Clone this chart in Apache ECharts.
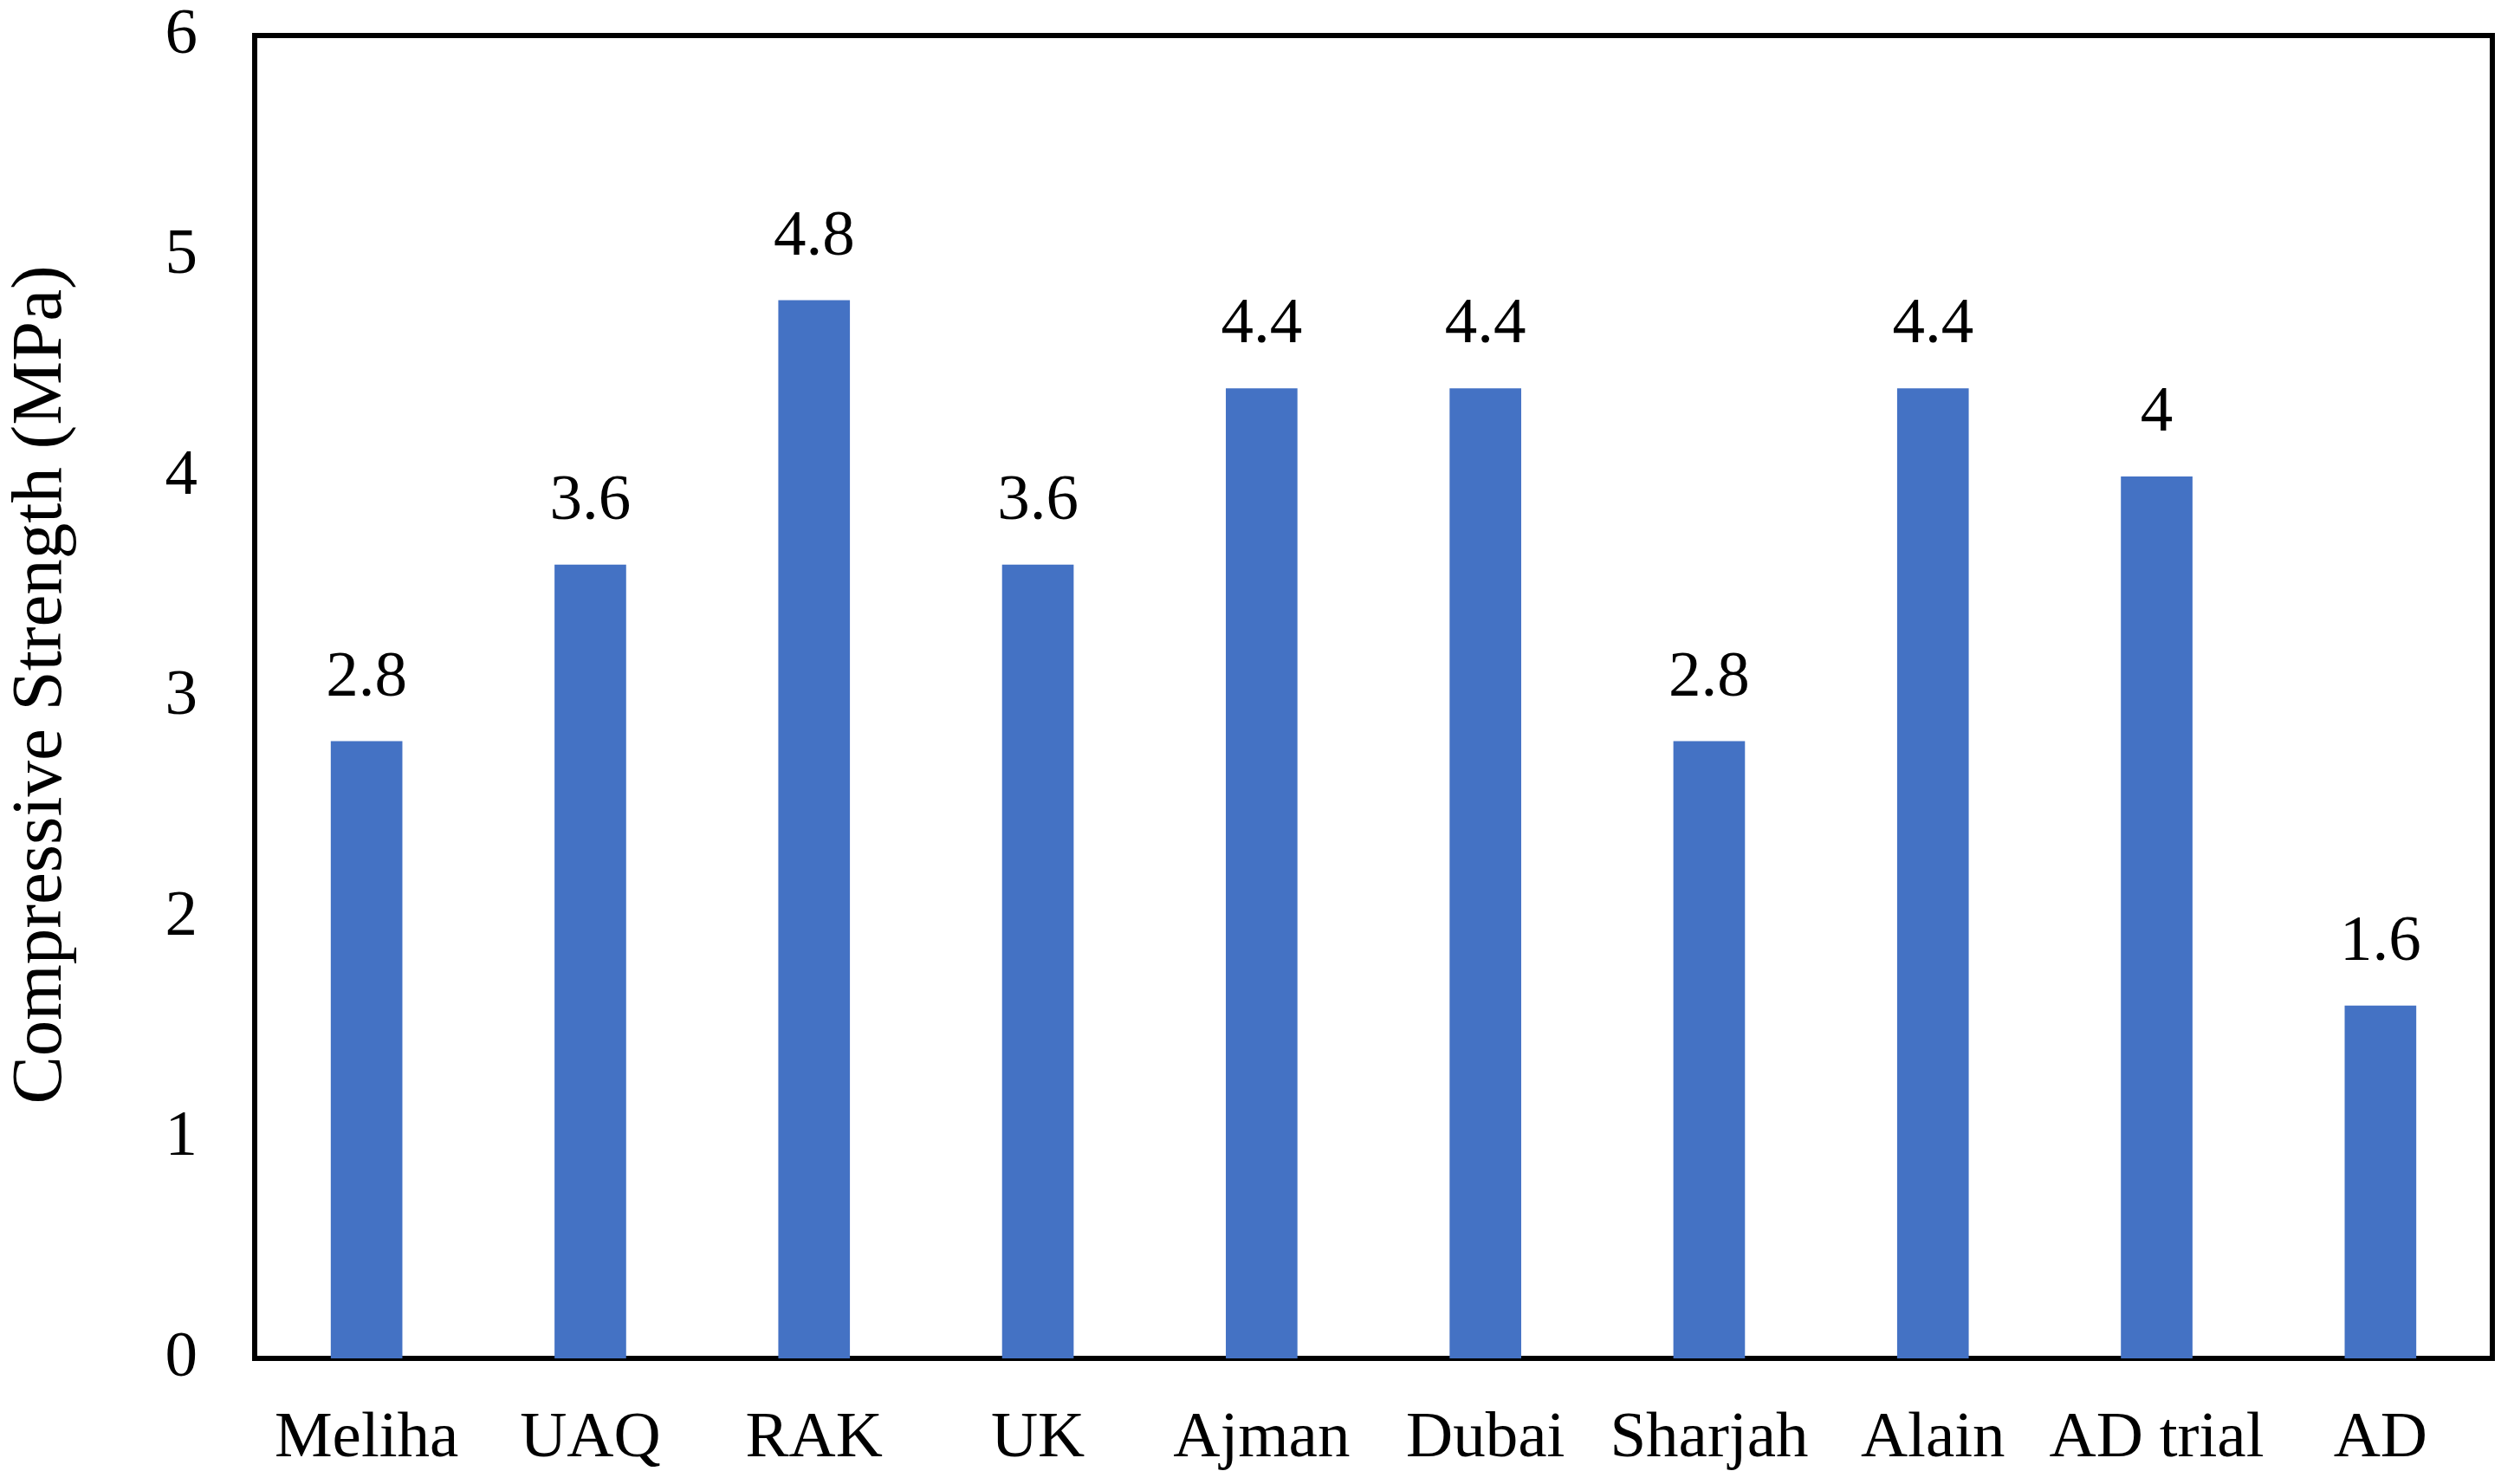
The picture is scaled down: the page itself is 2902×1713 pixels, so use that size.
<!DOCTYPE html>
<html>
<head>
<meta charset="utf-8">
<script src="https://cdn.jsdelivr.net/npm/echarts@6/dist/echarts.min.js"></script>
<style>html,body{margin:0;padding:0;background:#fff;}#c{width:2902px;height:1713px;}</style>
</head>
<body>
<div id="c"></div>
<script>
const categories = ["Meliha", "UAQ", "RAK", "UK", "Ajman", "Dubai", "Sharjah", "Alain", "AD trial", "AD"];
const strengthValues = [2.8, 3.6, 4.8, 3.6, 4.4, 4.4, 2.8, 4.4, 4, 1.6];
const yAxisTitle = "Compressive Strength (MPa)";

const FONT = "Liberation Serif";
const chart = echarts.init(document.getElementById('c'), null, {renderer: 'canvas'});
chart.setOption({
  animation: false,
  backgroundColor: '#fff',
  grid: {
    left: 294, right: 25, top: 41, bottom: 145,
    outerBoundsMode: 'none',
    containLabel: false,
    show: true, borderColor: '#000', borderWidth: 6, backgroundColor: 'transparent'
  },
  xAxis: {
    type: 'category',
    data: categories,
    axisLine: {show: true, lineStyle: {color: '#000', width: 6}},
    axisTick: {show: false},
    axisLabel: {color: '#000', fontFamily: FONT, fontSize: 75, margin: 56, interval: 0}
  },
  yAxis: {
    type: 'value',
    min: 0, max: 6, interval: 1,
    name: yAxisTitle,
    nameLocation: 'middle',
    nameGap: 204,
    nameTextStyle: {color: '#000', fontFamily: FONT, fontSize: 83, padding: [0, 0, 0, 28]},
    axisLine: {show: true, lineStyle: {color: '#000', width: 6}},
    axisTick: {show: false},
    splitLine: {show: false},
    axisLabel: {color: '#000', fontFamily: FONT, fontSize: 75, margin: 66}
  },
  series: [{
    type: 'bar',
    data: strengthValues,
    barWidth: '32%',
    itemStyle: {color: '#4472C4'},
    label: {
      show: true, position: 'top', distance: 35,
      color: '#000', fontFamily: FONT, fontSize: 75
    }
  }]
});
</script>
</body>
</html>
